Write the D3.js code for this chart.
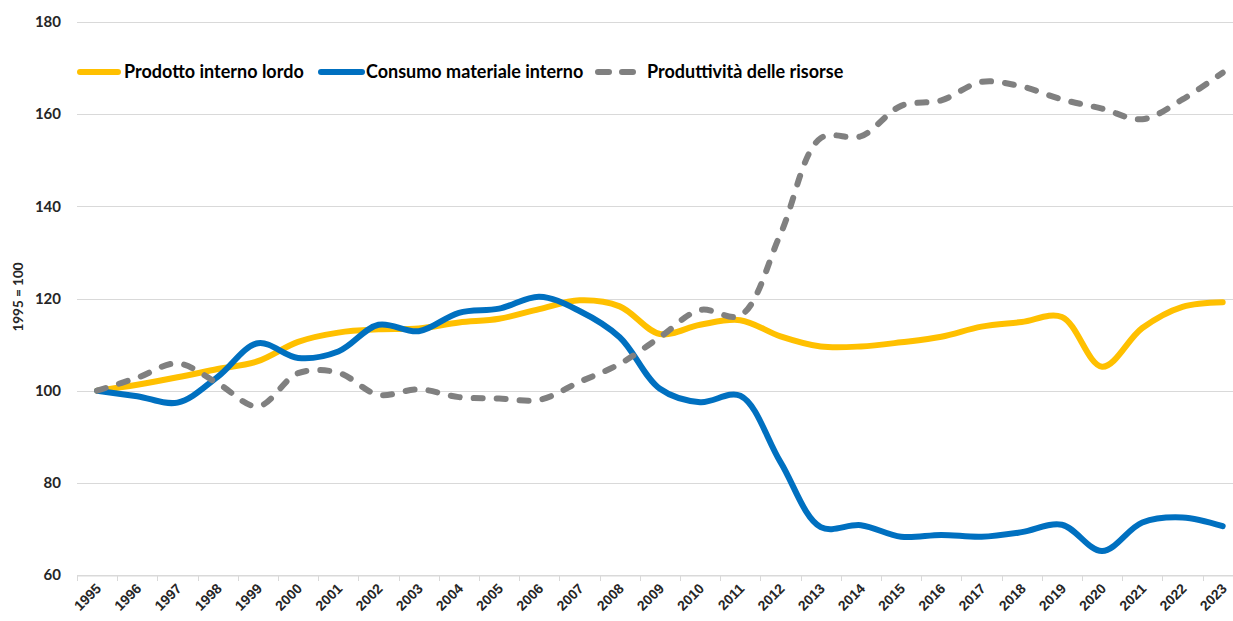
<!DOCTYPE html>
<html>
<head>
<meta charset="utf-8">
<script src="https://cdn.jsdelivr.net/npm/d3@7"></script>
<style>
  html, body { margin: 0; padding: 0; background: #fff; }
  svg { display: block; font-family: Lato, "Open Sans", sans-serif; }
</style>
</head>
<body>
<svg id="chart" width="1233" height="621"></svg>
<script>
// Years on the category axis
const years = [1995, 1996, 1997, 1998, 1999, 2000, 2001, 2002, 2003, 2004,
  2005, 2006, 2007, 2008, 2009, 2010, 2011, 2012, 2013, 2014,
  2015, 2016, 2017, 2018, 2019, 2020, 2021, 2022, 2023];

// Prodotto interno lordo (indice 1995 = 100)
const pil = [100, 101.3, 102.9, 104.7, 106.4, 110.6, 112.6, 113.3, 113.5, 114.8,
  115.6, 117.7, 119.6, 118.3, 112.3, 114.3, 115.3, 111.8, 109.6, 109.6,
  110.5, 111.7, 113.9, 114.9, 116.0, 105.2, 113.6, 118.2, 119.2];

// Consumo materiale interno (indice 1995 = 100)
const cmi = [100, 98.8, 97.4, 103.0, 110.3, 107.1, 108.5, 114.3, 112.9, 116.9,
  117.8, 120.4, 117.3, 111.6, 100.4, 97.5, 98.9, 84.5, 70.4, 70.8,
  68.3, 68.7, 68.3, 69.3, 70.9, 65.2, 71.4, 72.5, 70.6];

// Produttività delle risorse (indice 1995 = 100)
const prod = [100, 102.8, 105.9, 101.6, 96.6, 103.8, 103.9, 99.1, 100.3, 98.6,
  98.3, 98.0, 101.9, 105.8, 111.6, 117.5, 116.3, 134.0, 154.8, 155.2,
  161.8, 163.0, 167.0, 166.0, 163.2, 161.2, 158.9, 163.2, 169.0];

// Value axis ticks
const yTicks = [60, 80, 100, 120, 140, 160, 180];

const seriesNames = ["Prodotto interno lordo", "Consumo materiale interno", "Produttività delle risorse"];

const svg = d3.select("#chart");
const W = 1233, H = 621;

const left = 77;
const bandW = 40.2;
const x = d3.scaleBand()
  .domain(years)
  .range([left, left + bandW * years.length])
  .padding(0);
const y = d3.scaleLinear().domain([60, 180]).range([575, 22]);

const textCol = "#262626";
const gridCol = "#d9d9d9";

// Horizontal gridlines
svg.append("g")
  .selectAll("line")
  .data(yTicks)
  .join("line")
  .attr("x1", left)
  .attr("x2", W)
  .attr("y1", d => Math.round(y(d)) + 0.5)
  .attr("y2", d => Math.round(y(d)) + 0.5)
  .attr("stroke", gridCol)
  .attr("stroke-width", 1);

// Y axis labels
const yAxis = d3.axisLeft(y).tickValues(yTicks).tickSize(0).tickPadding(0);
const gy = svg.append("g").attr("transform", `translate(61,0)`).call(yAxis);
gy.select(".domain").remove();
gy.selectAll("text")
  .attr("font-size", 15)
  .attr("font-weight", "bold")
  .attr("fill", textCol)
  .attr("font-family", "Lato, sans-serif");

// Y axis title
svg.append("text")
  .attr("transform", `translate(23,297) rotate(-90)`)
  .attr("text-anchor", "middle")
  .attr("font-size", 13.5)
  .attr("font-weight", "bold")
  .attr("fill", textCol)
  .text("1995 = 100");

// X axis: category labels
const xAxis = d3.axisBottom(x).tickSize(0).tickFormat(d => d);
const gx = svg.append("g").attr("transform", `translate(0,${Math.round(y(60)) + 0.5})`).call(xAxis);
gx.select(".domain").attr("stroke", gridCol);
gx.selectAll(".tick line").remove();
gx.selectAll(".tick text")
  .attr("font-size", 14)
  .attr("font-weight", "bold")
  .attr("fill", textCol)
  .attr("text-anchor", "end")
  .attr("dy", 0)
  .attr("y", 0)
  .attr("transform", "translate(5,14) rotate(-45)");

// Tick marks between categories
svg.append("g")
  .selectAll("line")
  .data(years)
  .join("line")
  .attr("x1", d => Math.round(x(d)) + 0.5)
  .attr("x2", d => Math.round(x(d)) + 0.5)
  .attr("y1", Math.round(y(60)))
  .attr("y2", Math.round(y(60)) + 6)
  .attr("stroke", gridCol);

// Series lines
const cx = d => x(d) + x.bandwidth() / 2;
const line = vals => d3.line()
  .x((d, i) => cx(years[i]))
  .y(d => y(d))
  .curve(d3.curveCatmullRom.alpha(0.5))(vals);

const series = [
  { name: seriesNames[0], values: pil, color: "#FFC000", dash: null },
  { name: seriesNames[1], values: cmi, color: "#0070C0", dash: null },
  { name: seriesNames[2], values: prod, color: "#808080", dash: "9,14" }
];

svg.append("g")
  .selectAll("path")
  .data(series)
  .join("path")
  .attr("d", d => line(d.values))
  .attr("fill", "none")
  .attr("stroke", d => d.color)
  .attr("stroke-width", 6)
  .attr("stroke-linecap", "round")
  .attr("stroke-linejoin", "round")
  .attr("stroke-dasharray", d => d.dash);

// Legend
const legendX = [[80, 118, 124], [321, 362, 366], [598, 642, 647]];
const lg = svg.append("g");
series.forEach((s, i) => {
  const [x1, x2, tx] = legendX[i];
  lg.append("line")
    .attr("x1", x1).attr("x2", x2)
    .attr("y1", 72).attr("y2", 72)
    .attr("stroke", s.color)
    .attr("stroke-width", 6)
    .attr("stroke-linecap", "round")
    .attr("stroke-dasharray", s.dash ? "11,13" : null);
  lg.append("text")
    .attr("x", tx)
    .attr("y", 78)
    .attr("font-size", 18)
    .attr("font-weight", "bold")
    .attr("fill", "#000")
    .text(s.name);
});
</script>
</body>
</html>
